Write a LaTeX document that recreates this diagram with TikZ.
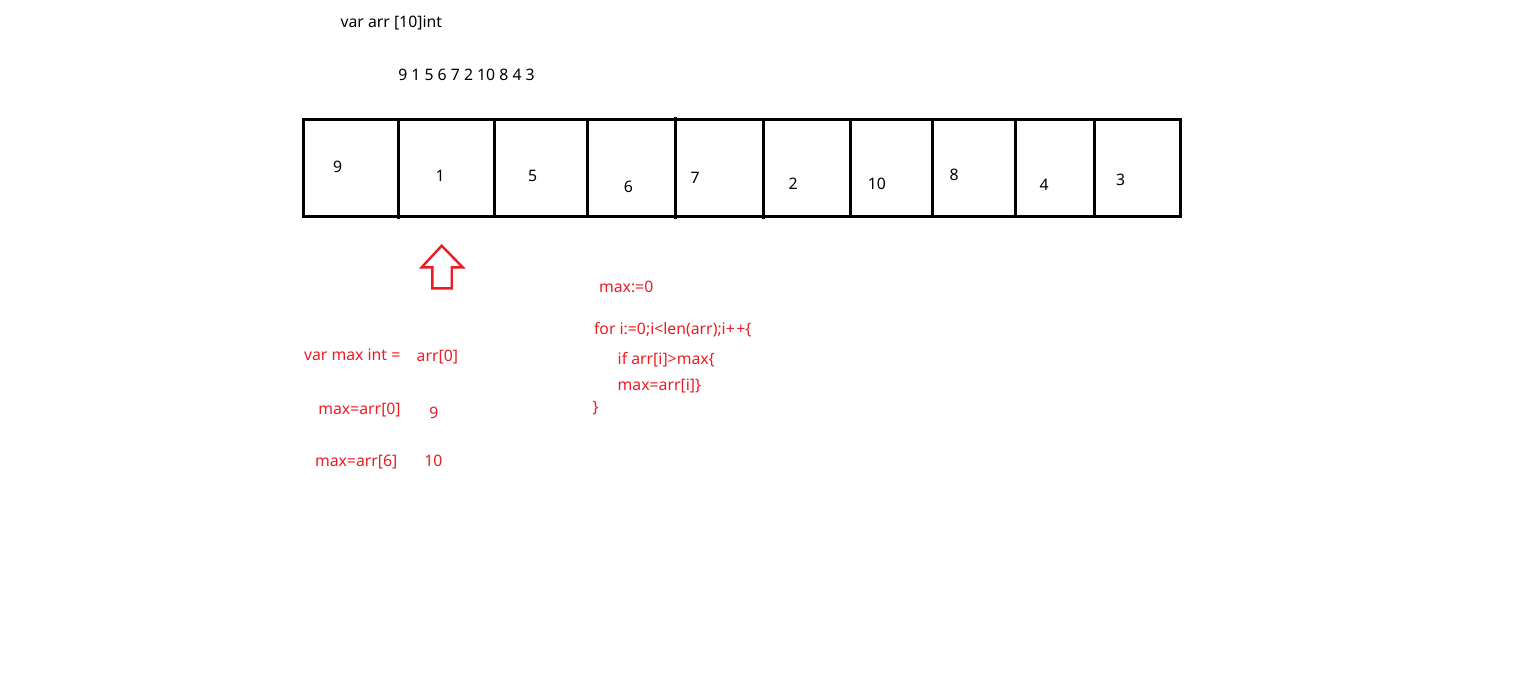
\documentclass[tikz,border=0pt]{standalone}
\usepackage{fontspec}
\setmainfont{Noto Sans}
\definecolor{pred}{RGB}{237,28,36}
\tikzset{
  txt/.style={anchor=base west, inner sep=0pt, outer sep=0pt, font=\fontsize{15.8}{18}\selectfont},
  blk/.style={txt, text=black},
  rtxt/.style={txt, text=pred},
  grid/.style={draw=black, line width=3pt},
  hollowarrow/.style={draw=pred, line width=2.4pt, fill=white}
}
\begin{document}
\begin{tikzpicture}[x=1pt,y=-1pt]
\useasboundingbox[fill=white] (0,0) rectangle (1532,699);

% top texts
\node[blk] (decl) at (340.5,27.7) {var arr [10]int};
\node[blk] (vals) at (398.3,80) {9 1 5 6 7 2 10 8 4 3};

% array box
\draw[grid] (303.3,119.3) rectangle (1180.5,216);
\draw[grid] (398.3,119.3) -- (398.3,219);
\draw[grid] (494,119.3) -- (494,216);
\draw[grid] (587.3,119.3) -- (587.3,216);
\draw[grid] (675.7,117) -- (675.7,219);
\draw[grid] (763.3,119.3) -- (763.3,219);
\draw[grid] (850.7,119.3) -- (850.7,216);
\draw[grid] (932.7,119.3) -- (932.7,216);
\draw[grid] (1015.7,119.3) -- (1015.7,216);
\draw[grid] (1094.3,119.3) -- (1094.3,216);

% cell values
\node[blk] (c0) at (333,172.7) {9};
\node[blk] (c1) at (435.5,181.7) {1};
\node[blk] (c2) at (528.2,181) {5};
\node[blk] (c3) at (623.8,192.7) {6};
\node[blk] (c4) at (690.5,183.3) {7};
\node[blk] (c5) at (788.5,189) {2};
\node[blk] (c6) at (867.8,189) {10};
\node[blk] (c7) at (949.5,180) {8};
\node[blk] (c8) at (1039.5,190.7) {4};
\node[blk] (c9) at (1116.2,185.7) {3};

% hollow up arrow
\draw[hollowarrow, line join=miter] (441.7,245.7) -- (462.7,267.3) -- (451.7,267.3) -- (451.7,288.3)
  -- (432.3,288.3) -- (432.3,267.3) -- (421.7,267.3) -- cycle;

% left red texts
\node[rtxt] (vmax) at (304,360) {var max int =};
\node[rtxt] (a0) at (416.7,361.7) {arr[0]};
\node[rtxt] (m0) at (318.3,414) {max=arr[0]};
\node[rtxt] (n9) at (429.3,418.3) {9};
\node[rtxt] (m6) at (315,466.7) {max=arr[6]};
\node[rtxt] (n10) at (424.3,466.7) {10};

% right red code
\node[rtxt] (init) at (599,292.7) {max:=0};
\node[rtxt] (forl) at (594,334) {for i:=0;i<len(arr);i+\hspace{1.5pt}+\{};
\node[rtxt] (ifl) at (617.7,364) {if arr[i]>max\{};
\node[rtxt] (asg) at (617.7,390) {max=arr[i]\}};
\node[rtxt] (cls) at (592.7,412) {\}};
\end{tikzpicture}
\end{document}
